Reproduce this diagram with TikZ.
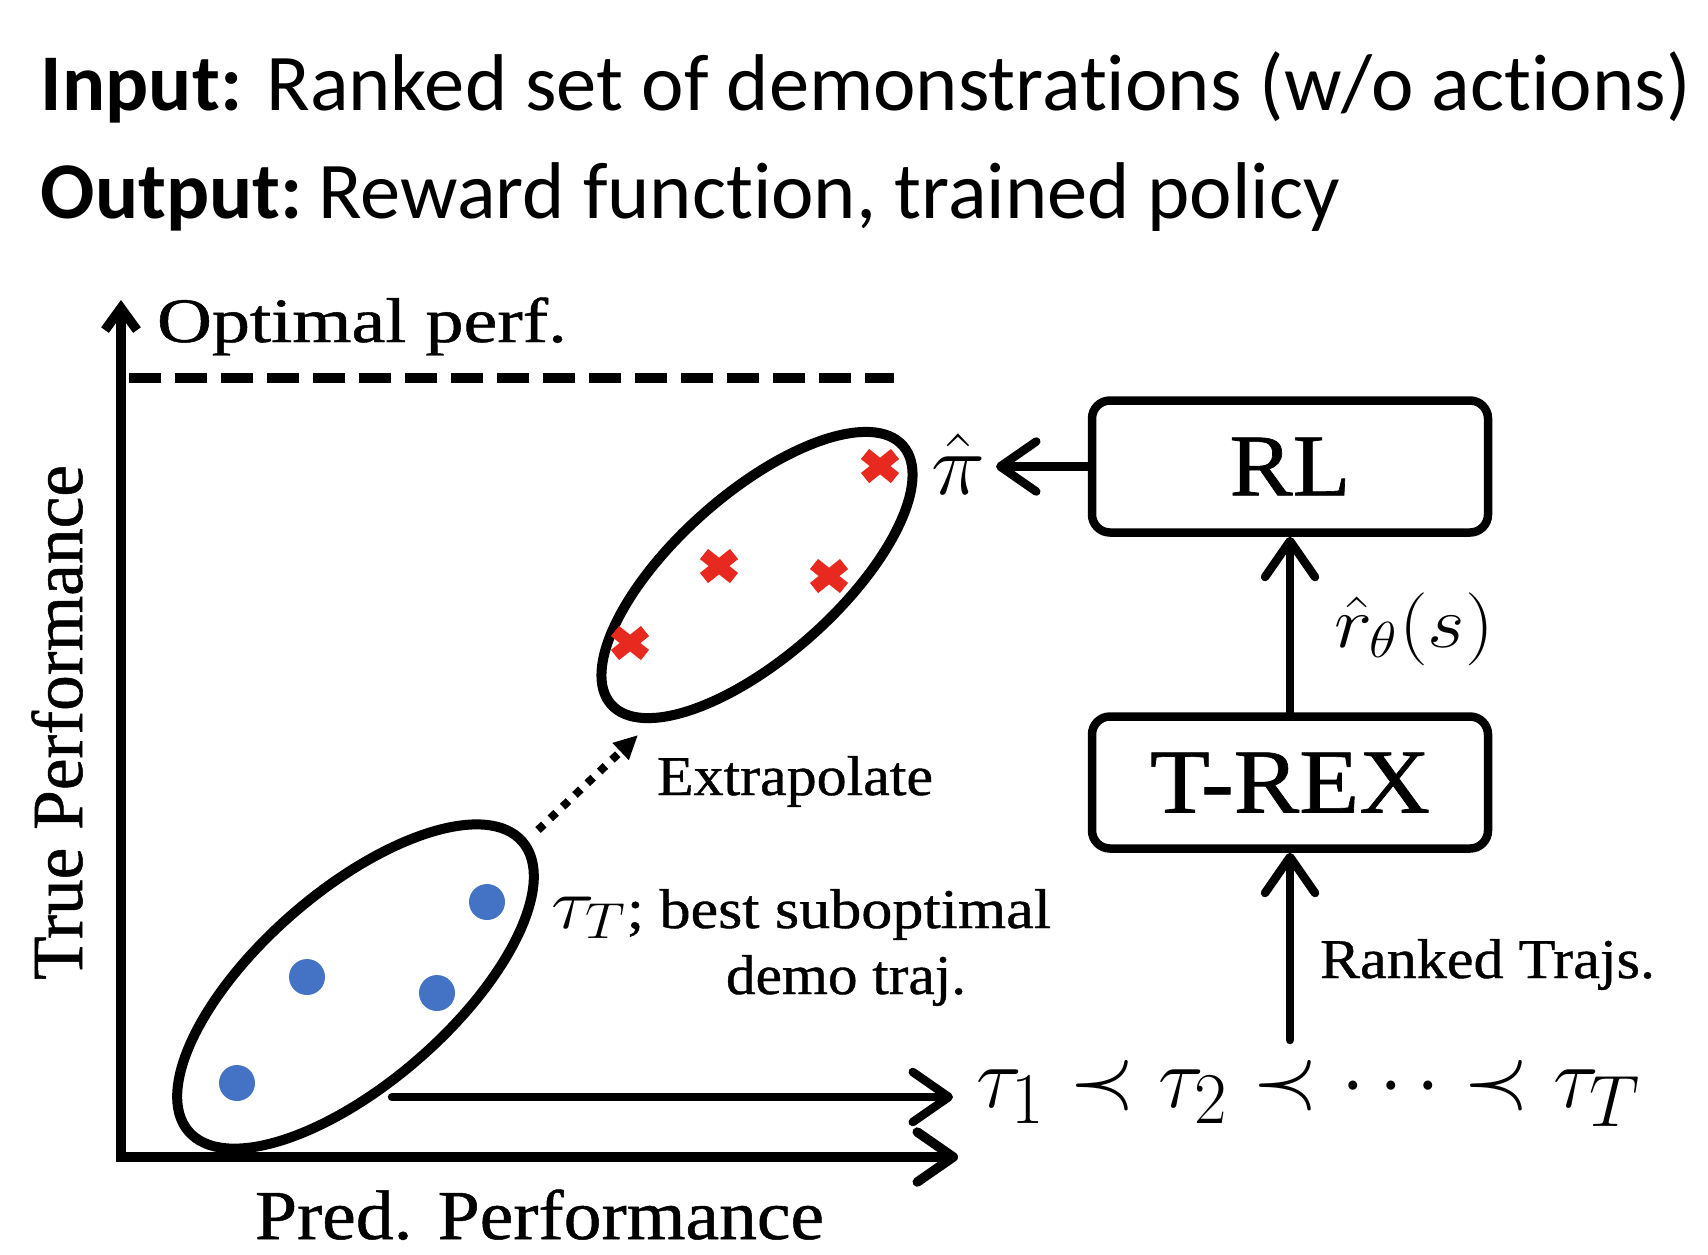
\documentclass[tikz,border=0pt]{standalone}
\usepackage{fontspec}
\setmainfont[Ligatures=NoCommon]{Carlito}
\newfontfamily\tnr[RawFeature={embolden=0.7}]{Liberation Serif}
\usepackage{graphicx}
\usetikzlibrary{arrows.meta,shapes.geometric}
\definecolor{dotblue}{HTML}{4472C4}
\definecolor{xred}{HTML}{E8291F}
\newcommand\fitlab[3]{{\tnr\fontsize{#1}{#1}\selectfont\resizebox{#2}{\height}{#3}}}
\begin{document}
\begin{tikzpicture}[x=0.1mm,y=-0.1mm,
  lbl/.style={inner sep=0, outer sep=0},
  arr/.style={line width=0.85mm, line cap=round, -{Straight Barb[length=3.6mm,width=5mm,round]}},
  box/.style={draw, line width=0.85mm, rounded corners=1.8mm, minimum width=39.6mm, minimum height=13.2mm, inner sep=0},
  ell/.style={draw, ellipse, line width=1mm, inner sep=0},
  xmark/.pic={\draw[xred, line width=1.3mm] (-15,-12) -- (15,12) (-15,12) -- (15,-12);}
]
\useasboundingbox (0,0) rectangle (1708,1254);

% title
\node[lbl, anchor=base west] (tin) at (41,110) {\fontsize{22.9}{27}\selectfont\textbf{Input:} Ranked set of demonstrations (w/o actions)};
\node[lbl, anchor=base west] (tout) at (41,218) {\fontsize{22.9}{27}\selectfont\textbf{Output:}\kern-2.5pt{} Reward function, trained policy};

% axes
\coordinate (O) at (121,1157);
\coordinate (ytop) at (121,300);
\coordinate (xend) at (958,1157);
\draw[line width=0.95mm, line join=miter, {Straight Barb[length=3.6mm,width=5mm,round]}-{Straight Barb[length=2.2mm,width=3.2mm]}] (xend) -- (O) -- (ytop);

% optimal line
\coordinate (d1) at (129,378);
\coordinate (d2) at (894,378);
\draw[line width=0.95mm, dash pattern=on 3.2mm off 1.4mm] (d1) -- (d2);

% ellipses
\node[ell, minimum width=39mm, minimum height=16.3mm, rotate=41.6] (hi) at (757,575) {};
\node[ell, minimum width=44.2mm, minimum height=19.2mm, rotate=41] (lo) at (355.5,986.5) {};

% blue dots
\fill[dotblue] (237,1083) circle [radius=18];
\fill[dotblue] (307,977) circle [radius=18];
\fill[dotblue] (437,993) circle [radius=18];
\fill[dotblue] (487,902) circle [radius=18];

% red crosses
\pic at (880,466) {xmark};
\pic at (719,566) {xmark};
\pic at (829,576) {xmark};
\pic at (630,643) {xmark};

% boxes
\node[box] (rl) at (1290,466.5) {\fitlab{25}{12.1mm}{RL}};
\node[box] (trex) at (1290,782.5) {\fitlab{26}{28mm}{T-REX}};

% labels
\node[lbl, anchor=base west] (opt) at (157,342) {\fitlab{18}{41mm}{Optimal perf.}};
\node[lbl, anchor=base west] (extra) at (657,795) {\fitlab{16}{27.6mm}{Extrapolate}};
\node[lbl, anchor=base west] (best) at (551,928) {\fitlab{16}{50mm}{{\fontsize{22}{22}\selectfont$\tau_T$}; best suboptimal}};
\node[lbl, anchor=base west] (demo) at (726,994) {\fitlab{16}{24mm}{demo traj.}};
\node[lbl, anchor=base west] (ranked) at (1320,978) {\fitlab{16}{33.5mm}{Ranked Trajs.}};
\node[lbl, anchor=base west] (pred) at (255,1239) {\fitlab{20}{56.9mm}{Pred. Performance}};
\node[lbl, anchor=base west, rotate=90] (truep) at (82,980) {\fitlab{20.5}{51.5mm}{True Performance}};
\node[lbl, anchor=base west] (pihat) at (931,494) {\fitlab{25}{5.4mm}{$\hat{\pi}$}};
\node[lbl, anchor=base west] (rhat) at (1334,647) {\fitlab{20}{16mm}{$\hat{r}_\theta(s)$}};
\node[lbl, anchor=base west] (seq) at (976,1107) {\fitlab{28}{66.5mm}{$\tau_1 \prec \tau_2 \prec \cdots \prec \tau_T$}};

% connectors
\draw[arr, shorten >=1.1mm] (rl.west) -- (rl.west -| pihat.east);
\draw[arr] (trex.north) -- (rl.south);
\coordinate (seqtop) at (1290,1040);
\draw[arr] (seqtop) -- (trex.south);
\coordinate (ls) at (392,1097);
\coordinate (se) at (953,1097);
\draw[arr] (ls) -- (se);
\coordinate (e1) at (538,830);
\coordinate (e2) at (638,735);
\draw[line width=0.8mm, dash pattern=on 0.8mm off 0.9mm, -{Triangle[length=2.4mm,width=2.2mm]}] (e1) -- (e2);
\end{tikzpicture}
\end{document}
